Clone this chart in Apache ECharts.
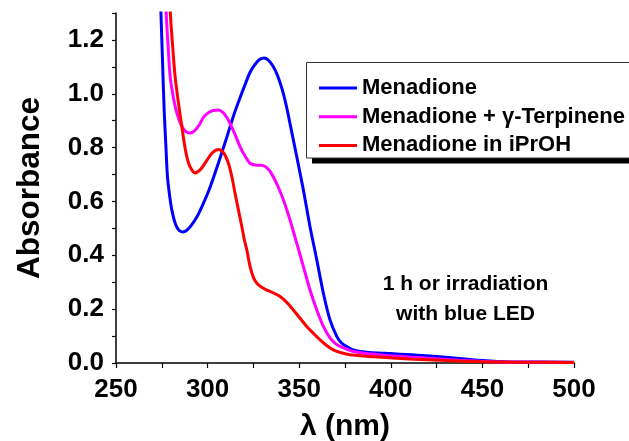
<!DOCTYPE html>
<html>
<head>
<meta charset="utf-8">
<script src="https://cdn.jsdelivr.net/npm/echarts@6/dist/echarts.min.js"></script>
<style>
  html, body { margin: 0; padding: 0; background: #fff; }
  #chart { width: 629px; height: 441px; }
</style>
</head>
<body>
<div id="chart"></div>
<script>
// UV-vis spectra, [wavelength nm, absorbance]
const seriesNames = ['Menadione', 'Menadione + γ-Terpinene', 'Menadione in iPrOH']
const seriesColors = ['#0000ff', '#ff00ff', '#ff0000']

const menadione = [
  [272.5, 1.7], [274.5, 1.308], [275.5, 1.1], [276.3, 0.938], [277.2, 0.81], [278.1, 0.691],
  [279.3, 0.62], [280.5, 0.568], [282.5, 0.515], [284.5, 0.492], [286.5, 0.487], [288.5, 0.492],
  [291, 0.51], [294.2, 0.543], [297.5, 0.59], [301.4, 0.654], [306, 0.745], [310.5, 0.839],
  [314, 0.915], [317.8, 0.987], [320.5, 1.035], [323.2, 1.08], [326, 1.11], [328.5, 1.128],
  [330.9, 1.133], [333, 1.126], [335.5, 1.105], [337.8, 1.074], [339.6, 1.04], [341.4, 1.0],
  [343.2, 0.948], [345, 0.889], [348.7, 0.765], [352.3, 0.642], [355.9, 0.506], [359.6, 0.383],
  [363.2, 0.259], [366.8, 0.16], [370.5, 0.099], [373, 0.075], [375.9, 0.061], [379, 0.05],
  [383.2, 0.043], [393.2, 0.037], [400, 0.035], [423, 0.025], [450, 0.009], [465, 0.004],
  [500, 0.003]
]

const menadioneTerpinene = [
  [274.5, 1.7], [277.3, 1.308], [278.5, 1.17], [279.6, 1.062], [281.5, 0.98], [283.3, 0.926],
  [285.5, 0.885], [288, 0.86], [290.5, 0.854], [293, 0.863], [295.5, 0.885], [297.8, 0.913],
  [300.5, 0.93], [303, 0.938], [305.9, 0.94], [308.5, 0.93], [310.5, 0.912], [312.3, 0.889],
  [315, 0.848], [317.8, 0.802], [320.5, 0.768], [323.2, 0.741], [326.5, 0.735], [330.5, 0.733],
  [333.5, 0.717], [335.9, 0.691], [338.8, 0.65], [341.4, 0.605], [345, 0.531], [348.7, 0.444],
  [352.3, 0.358], [355.9, 0.271], [359.6, 0.197], [363.2, 0.136], [366.8, 0.093], [369.5, 0.074],
  [372.3, 0.062], [379.6, 0.043], [393.2, 0.031], [410, 0.022], [430, 0.013], [450, 0.006],
  [470, 0.003], [500, 0.002]
]

const menadioneIPrOH = [
  [277.5, 1.7], [279.6, 1.308], [281, 1.17], [282.3, 1.062], [284.2, 0.96], [286, 0.876],
  [287.3, 0.815], [288.7, 0.765], [290.5, 0.728], [293.2, 0.706], [296.5, 0.722], [299.6, 0.753],
  [302.8, 0.782], [305.9, 0.793], [308.8, 0.78], [311.4, 0.741], [313.3, 0.69], [315, 0.63],
  [316.9, 0.566], [318.7, 0.506], [320, 0.46], [321.4, 0.42], [323.2, 0.358], [325, 0.318],
  [326.9, 0.296], [329.5, 0.281], [332.3, 0.271], [336, 0.26], [339.6, 0.247], [343.2, 0.225],
  [346.8, 0.197], [350.5, 0.166], [354.1, 0.136], [357.8, 0.11], [361.4, 0.086], [365, 0.065],
  [368.6, 0.049], [373, 0.038], [377.7, 0.031], [393.2, 0.022], [410, 0.015], [430, 0.009],
  [450, 0.005], [470, 0.003], [500, 0.002]
]

const seriesData = [menadione, menadioneTerpinene, menadioneIPrOH]
const noteLines = ['1 h or irradiation', 'with blue LED']

const fontFamily = '"Liberation Sans", Arial, sans-serif'
const chart = echarts.init(document.getElementById('chart'))

chart.setOption({
  animation: false,
  textStyle: { fontFamily: fontFamily },
  grid: { left: 116, right: 55, top: 13, bottom: 78, containLabel: false, outerBoundsMode: 'none' },
  xAxis: {
    type: 'value',
    min: 250,
    max: 500,
    interval: 25,
    name: 'λ (nm)',
    nameLocation: 'middle',
    nameGap: 49,
    nameTextStyle: { fontSize: 30, fontWeight: 'bold', color: '#000' },
    axisLine: { lineStyle: { color: '#000', width: 1.5 } },
    axisTick: { length: 5, lineStyle: { color: '#000', width: 1.2 } },
    axisLabel: {
      fontSize: 26, fontWeight: 'bold', color: '#000', margin: 14,
      formatter: v => (v % 50 === 0 ? String(v) : '')
    },
    splitLine: { show: false }
  },
  yAxis: {
    type: 'value',
    min: 0,
    max: 1.3,
    interval: 0.1,
    name: 'Absorbance',
    nameLocation: 'middle',
    nameGap: 70,
    nameTextStyle: { fontSize: 31.5, fontWeight: 'bold', color: '#000' },
    axisLine: { show: true, lineStyle: { color: '#000', width: 1.5 } },
    axisTick: { show: true, length: 4, lineStyle: { color: '#000', width: 1.2 } },
    axisLabel: {
      fontSize: 26, fontWeight: 'bold', color: '#000', margin: 12,
      formatter: v => (Math.round(v * 10) % 2 === 0 && v < 1.25 ? v.toFixed(1) : '')
    },
    splitLine: { show: false }
  },
  legend: {
    orient: 'vertical',
    left: 307,
    top: 63,
    z: 10,
    padding: [14, 5, 5, 12],
    icon: 'rect',
    itemWidth: 38,
    itemHeight: 3,
    itemGap: 6.7,
    textStyle: { fontSize: 22, fontWeight: 'bold', color: '#000', lineHeight: 22 }
  },
  graphic: [
    // legend frame with its hard black drop shadow
    { type: 'rect', z: 5, shape: { x: 312, y: 68, width: 340, height: 95.5 }, style: { fill: '#000' } },
    { type: 'rect', z: 6, shape: { x: 306.5, y: 62.5, width: 340, height: 95.5 }, style: { fill: '#fff', stroke: '#333', lineWidth: 1 } },
    {
      type: 'text',
      z: 6,
      x: 465.5,
      y: 269,
      style: {
        text: noteLines.join('\n'),
        font: 'bold 21px ' + fontFamily,
        fill: '#000',
        textAlign: 'center',
        textVerticalAlign: 'top',
        lineHeight: 30
      }
    }
  ],
  series: seriesData.map((d, i) => ({
    name: seriesNames[i],
    type: 'line',
    data: d,
    showSymbol: false,
    symbol: 'none',
    smooth: 0.3,
    lineStyle: { color: seriesColors[i], width: 3 },
    itemStyle: { color: seriesColors[i] }
  }))
})
</script>
</body>
</html>
